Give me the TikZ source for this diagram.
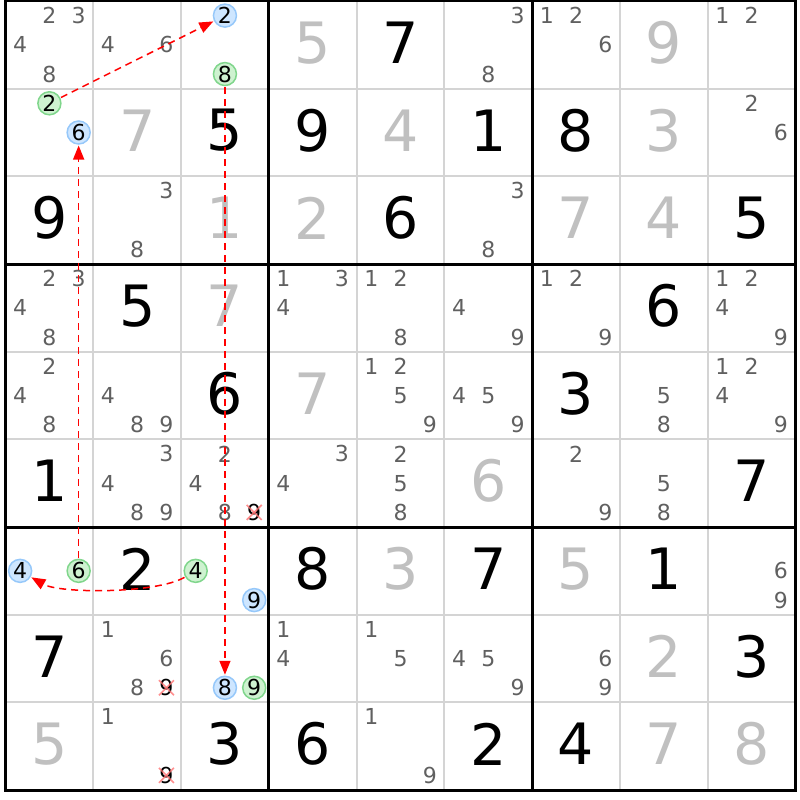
\documentclass[tikz,border=0pt]{standalone}
\usepackage{fontspec}
\usetikzlibrary{arrows.meta}
\newfontfamily\sudokufont{DejaVu Sans}

\definecolor{solvedgray}{RGB}{192,192,192}
\definecolor{candgray}{RGB}{96,96,96}
\definecolor{thingray}{RGB}{212,212,212}
\definecolor{bluefill}{RGB}{206,230,255}
\definecolor{blueline}{RGB}{150,200,250}
\definecolor{greenfill}{RGB}{206,242,208}
\definecolor{greenline}{RGB}{128,214,140}

\tikzset{
  given/.style={inner sep=0pt, yshift=2pt, text=black,
    font=\sudokufont\fontsize{57pt}{57pt}\selectfont},
  solved/.style={given, text=solvedgray},
  cand/.style={inner sep=0pt, text=candgray,
    font=\sudokufont\fontsize{22pt}{22pt}\selectfont},
  bluecand/.style={cand, text=black, circle, minimum size=23pt, outer sep=1.5pt,
    draw=blueline, fill=bluefill, line width=1.5pt},
  greencand/.style={bluecand, draw=greenline, fill=greenfill},
  struck/.style={cand, text=black},
  strikeline/.style={red!55, line width=1.6pt, opacity=.8},
  link/.style={red, dashed, dash pattern=on 7pt off 5pt, line width=1.5pt,
    -{Triangle[length=14pt,width=11pt]}},
}

% position of candidate #3 in cell (#1,#2)
\newcommand{\candpos}[3]{({#2+(mod(#3-1,3)+.5)/3},{-#1-(int((#3-1)/3)+.5)/3})}

\begin{document}
\begin{tikzpicture}[x=87.78pt, y=87.67pt]
    \useasboundingbox (-5.5pt,1pt) rectangle (794.5pt,-799pt);
    \fill[white] (-5.5pt,1pt) rectangle (794.5pt,-799pt);

    % grid
    \foreach \i in {1,2,4,5,7,8} {
        \draw[thingray, line width=2pt] (\i,0) -- (\i,-9);
        \draw[thingray, line width=2pt] (0,-\i) -- (9,-\i);
    }
    \foreach \i in {0,3,6,9} {
        \draw[black, line width=3pt, line cap=rect] (\i,0) -- (\i,-9);
        \draw[black, line width=3pt, line cap=rect] (0,-\i) -- (9,-\i);
    }

    % given digits
    \foreach \r/\c/\v in {0/4/7, 1/2/5, 1/3/9, 1/5/1, 1/6/8, 2/0/9, 2/4/6,
        2/8/5, 3/1/5, 3/7/6, 4/2/6, 4/6/3, 5/0/1, 5/8/7, 6/1/2, 6/3/8,
        6/5/7, 6/7/1, 7/0/7, 7/8/3, 8/2/3, 8/3/6, 8/5/2, 8/6/4}
        \node[given] (v-\r-\c) at ({\c+.5},{-\r-.5}) {\v};

    % solved digits
    \foreach \r/\c/\v in {0/3/5, 0/7/9, 1/1/7, 1/4/4, 1/7/3, 2/2/1, 2/3/2,
        2/6/7, 2/7/4, 3/2/7, 4/3/7, 5/5/6, 6/4/3, 6/6/5, 7/7/2, 8/0/5,
        8/7/7, 8/8/8}
        \node[solved] (v-\r-\c) at ({\c+.5},{-\r-.5}) {\v};

    % candidates
    \foreach \r/\c/\list in {0/0/{2,3,4,8}, 0/1/{4,6}, 0/5/{3,8},
        0/6/{1,2,6}, 0/8/{1,2}, 1/8/{2,6}, 2/1/{3,8}, 2/5/{3,8},
        3/0/{2,3,4,8}, 3/3/{1,3,4}, 3/4/{1,2,8}, 3/5/{4,9}, 3/6/{1,2,9},
        3/8/{1,2,4,9}, 4/0/{2,4,8}, 4/1/{4,8,9}, 4/4/{1,2,5,9},
        4/5/{4,5,9}, 4/7/{5,8}, 4/8/{1,2,4,9}, 5/1/{3,4,8,9},
        5/2/{2,4,8}, 5/3/{3,4}, 5/4/{2,5,8}, 5/6/{2,9}, 5/7/{5,8},
        6/8/{6,9}, 7/1/{1,6,8}, 7/3/{1,4}, 7/4/{1,5}, 7/5/{4,5,9},
        7/6/{6,9}, 8/1/{1}, 8/4/{1,9}}
        \foreach \d in \list
            \node[cand] (k-\r-\c-\d) at \candpos{\r}{\c}{\d} {\d};

    % eliminated candidates
    \foreach \r/\c in {5/2, 7/1, 8/1} {
        \node[struck] (x-\r-\c) at \candpos{\r}{\c}{9} {9};
        \draw[strikeline] ([shift={(-7.5pt,7.5pt)}]x-\r-\c.center)
            -- ([shift={(7.5pt,-7.5pt)}]x-\r-\c.center);
        \draw[strikeline] ([shift={(-7.5pt,-7.5pt)}]x-\r-\c.center)
            -- ([shift={(7.5pt,7.5pt)}]x-\r-\c.center);
    }

    % chain candidates
    \foreach \r/\c/\d in {0/2/2, 1/0/6, 6/0/4, 6/2/9, 7/2/8}
        \node[bluecand] (b-\r-\c-\d) at \candpos{\r}{\c}{\d} {\d};
    \foreach \r/\c/\d in {0/2/8, 1/0/2, 6/0/6, 6/2/4, 7/2/9}
        \node[greencand] (g-\r-\c-\d) at \candpos{\r}{\c}{\d} {\d};

    % links
    \draw[link] (g-1-0-2) -- (b-0-2-2);
    \draw[link] (g-0-2-8) -- (b-7-2-8);
    \draw[link] (g-6-0-6) -- (b-1-0-6);
    \draw[link] (g-6-2-4) to[out=210, in=-30, looseness=.55] (b-6-0-4);
\end{tikzpicture}
\end{document}
